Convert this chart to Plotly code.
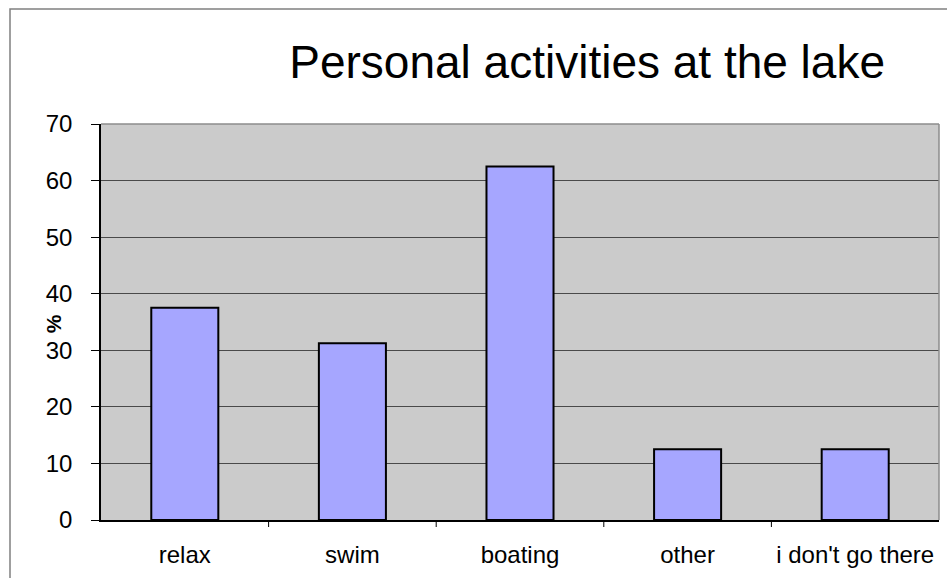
import plotly.graph_objects as go

categories = ["relax", "swim", "boating", "other", "i don't go there"]
percent = [37.5, 31.25, 62.5, 12.5, 12.5]
y_ticks = [0, 10, 20, 30, 40, 50, 60, 70]

W, H = 947, 578
L, R, T, B = 101, 8, 124, 58
pw, ph = W - L - R, H - T - B

fig = go.Figure(
    go.Bar(
        x=categories,
        y=percent,
        marker=dict(color="#A6A6FF", line=dict(color="#000000", width=2)),
        width=0.4,
        hoverinfo="x+y",
    )
)

font = "Liberation Sans, Arial, sans-serif"

fig.update_layout(
    width=W,
    height=H,
    margin=dict(l=L, r=R, t=T, b=B, autoexpand=False),
    paper_bgcolor="#FFFFFF",
    plot_bgcolor="#CBCBCB",
    showlegend=False,
    font=dict(family=font, color="#000000", size=24),
    title=dict(
        text="Personal activities at the lake",
        x=0.62,
        xanchor="center",
        y=0.893,
        yanchor="middle",
        font=dict(family=font, size=46, color="#000000"),
    ),
    xaxis=dict(
        range=[-0.5, 4.5],
        showgrid=False,
        showline=True,
        linecolor="#000000",
        linewidth=1.5,
        ticks="",
        tickfont=dict(size=24),
        ticklabelstandoff=12,
        automargin=False,
        fixedrange=True,
    ),
    yaxis=dict(
        range=[0, 70],
        tickvals=y_ticks,
        showgrid=True,
        gridcolor="#4A4A4A",
        gridwidth=1,
        showline=True,
        linecolor="#000000",
        linewidth=1.5,
        ticks="outside",
        ticklen=8,
        tickcolor="#000000",
        tickfont=dict(size=24),
        ticklabelstandoff=14,
        zeroline=False,
        automargin=False,
        fixedrange=True,
    ),
    annotations=[
        # y-axis title sits inside the tick-label column, between 30 and 40
        dict(text="<b>%</b>", xref="paper", yref="y", x=(53 - L) / pw, y=34.6,
             xanchor="center", yanchor="middle", textangle=-90,
             showarrow=False, font=dict(size=21, color="#000000")),
    ],
    shapes=[
        # light outline on the top and right of the plot area
        dict(type="line", xref="paper", yref="paper", x0=0, x1=1, y0=1, y1=1,
             line=dict(color="#8C8C8C", width=1.5), layer="above"),
        dict(type="line", xref="paper", yref="paper", x0=1, x1=1, y0=0, y1=1,
             line=dict(color="#8C8C8C", width=1.5), layer="above"),
        # frame around the chart
        dict(type="rect", xref="paper", yref="paper",
             x0=(10 - L) / pw, x1=1 + (R + 20) / pw,
             y0=-(B + 20) / ph, y1=1 + (T - 9) / ph,
             line=dict(color="#808080", width=1.5), fillcolor="rgba(0,0,0,0)", layer="below"),
    ],
)

# category boundary ticks below the x axis
for i in range(1, 5):
    fig.add_shape(
        type="line", xref="x", yref="paper",
        x0=i - 0.5, x1=i - 0.5, y0=0, y1=-7 / ph,
        line=dict(color="#000000", width=1),
    )

fig.write_html("out.html")
